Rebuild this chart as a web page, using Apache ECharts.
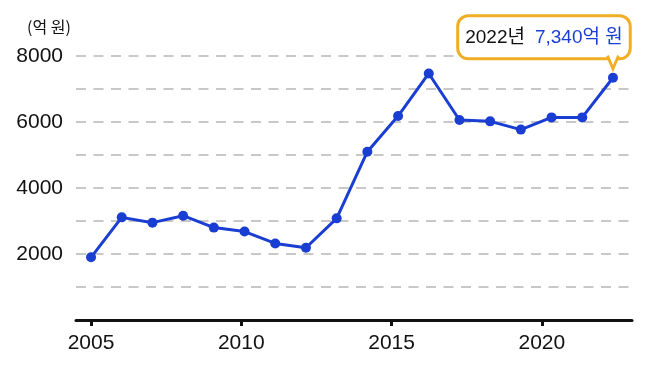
<!DOCTYPE html>
<html>
<head>
<meta charset="utf-8">
<script src="https://cdn.jsdelivr.net/npm/echarts@6/dist/echarts.min.js"></script>
<style>
html,body{margin:0;padding:0;background:#fff;}
#chart{width:658px;height:374px;}
</style>
</head>
<body>
<div id="chart"></div>
<script>
const years = [2005,2006,2007,2008,2009,2010,2011,2012,2013,2014,2015,2016,2017,2018,2019,2020,2021,2022];
const values = [1900,3110,2950,3160,2800,2680,2320,2190,3080,5100,6180,7470,6060,6020,5770,6140,6140,7340];
const yTickLabels = [2000,4000,6000,8000];
const xTickLabels = [2005,2010,2015,2020];
const unitText = '(억 원)';

const NUM_FONT = '"Liberation Sans","Noto Sans CJK KR",sans-serif';
const BLUE = '#1a3dd2';
const ORANGE = '#F0AE26';

const last = years.length - 1;
const chart = echarts.init(document.getElementById('chart'), null, {renderer:'canvas'});
chart.setOption({
  animation: false,
  backgroundColor: '#fff',
  title: {
    text: unitText, left: 22, top: 14,
    textStyle: {fontFamily: '"Noto Sans CJK KR",sans-serif', fontSize: 16, fontWeight: 'normal', color: '#111'}
  },
  grid: {left: 76, right: 26, top: 56, bottom: 54},
  xAxis: [{
    type: 'value', min: 2004.5, max: 2023,
    axisLine: {show: true, lineStyle: {color: '#111', width: 3}},
    axisTick: {show: true, customValues: xTickLabels, length: 6, lineStyle: {color: '#111', width: 3}},
    axisLabel: {show: true, customValues: xTickLabels, margin: 13, fontFamily: NUM_FONT, fontSize: 21, color: '#111', formatter: v => String(v)},
    splitLine: {show: false}
  }, {
    type: 'value', min: 2004.51, max: 2022.62, show: false
  }],
  yAxis: {
    type: 'value', min: 0, max: 8000, interval: 1000,
    axisLine: {show: false}, axisTick: {show: false},
    axisLabel: {margin: 13, fontFamily: NUM_FONT, fontSize: 21, color: '#111',
      formatter: v => yTickLabels.includes(v) ? String(v) : ''},
    splitLine: {show: true, lineStyle: {color: '#c8c8c8', width: 2, type: [10, 7.5]}}
  },
  series: [{
    type: 'line', xAxisIndex: 1,
    data: years.map((y, i) => [y, values[i]]),
    symbol: 'circle', symbolSize: 10,
    lineStyle: {color: BLUE, width: 3},
    itemStyle: {color: BLUE},
    z: 3,
    markPoint: {
      z: 5,
      symbol: 'circle', symbolSize: 1,
      itemStyle: {color: 'rgba(0,0,0,0)'},
      data: [{
        coord: [years[last], values[last]],
        label: {
          show: true, position: 'top', distance: 20, offset: [-69, 0],
          backgroundColor: '#fff', borderColor: ORANGE, borderWidth: 3, borderRadius: 9,
          padding: [9, 6, 9, 6],
          formatter: '{a|' + years[last] + '년}{b|' + values[last].toLocaleString('en-US') + '억 원}',
          rich: {
            a: {fontFamily: NUM_FONT, fontSize: 19, lineHeight: 22, color: '#111'},
            b: {fontFamily: NUM_FONT, fontSize: 19, lineHeight: 22, color: BLUE, padding: [0, 0, 0, 10]}
          }
        }
      }]
    }
  }, {
    type: 'line', xAxisIndex: 1, data: [], silent: true,
    markPoint: {
      z: 10,
      symbol: 'path://M0,0 L5.5,13 L11,0', symbolSize: [11, 13], symbolKeepAspect: false,
      symbolOffset: [0, -15.5],
      itemStyle: {color: '#fff', borderColor: ORANGE, borderWidth: 3},
      label: {show: false},
      data: [{coord: [years[last], values[last]]}]
    }
  }]
});
</script>
</body>
</html>
